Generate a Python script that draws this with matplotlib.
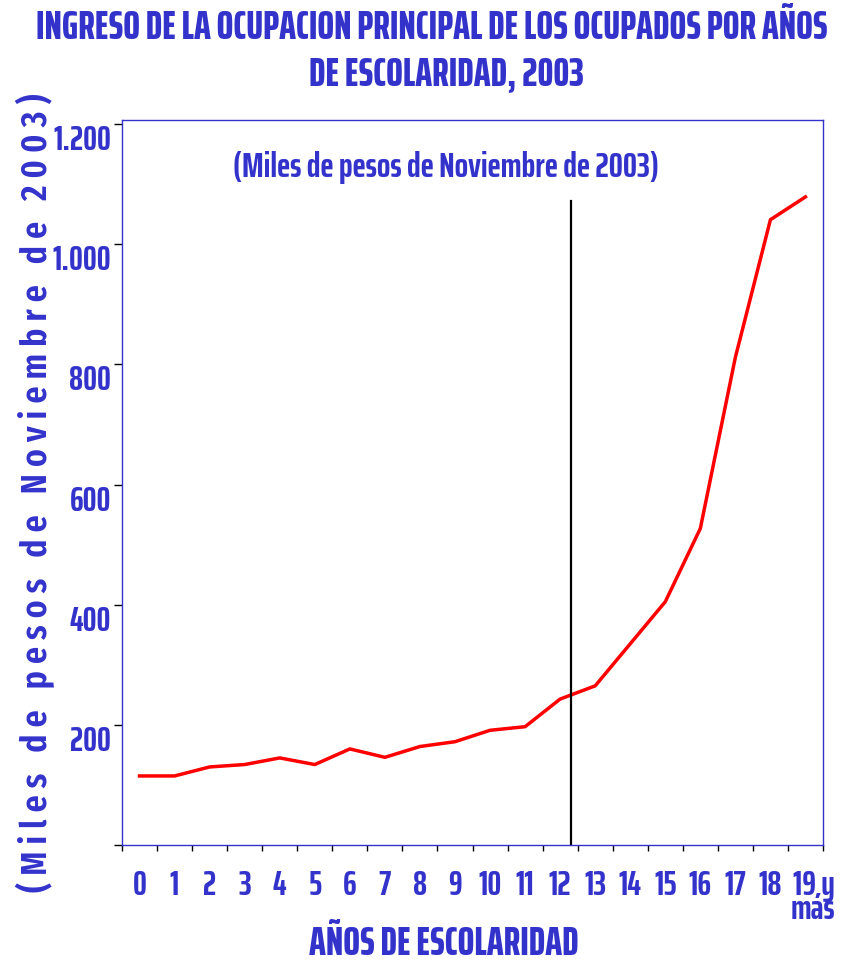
import matplotlib
matplotlib.use("Agg")
import matplotlib.pyplot as plt
from matplotlib.transforms import ScaledTranslation

# datos (miles de pesos de noviembre 2003)
anios = ["0", "1", "2", "3", "4", "5", "6", "7", "8", "9", "10",
         "11", "12", "13", "14", "15", "16", "17", "18", "19 y\nmás"]
ingreso = [115, 115, 130, 134, 145, 134, 160, 146, 164, 172, 191,
           197, 243, 265, 335, 405, 527, 812, 1041, 1079]
yticks = [200, 400, 600, 800, 1000, 1200]
ylabels = ["200", "400", "600", "800", "1.000", "1.200"]
corte_x = 12.31
corte_top = 1072

plt.rcParams['font.family'] = ['Saira ExtraCondensed', 'Fira Sans Extra Condensed', 'DejaVu Sans']

azul = '#3333cc'

fig = plt.figure(figsize=(8.41, 9.63), dpi=100)
ax = fig.add_axes([0.1451, 0.1225, 0.8335, 0.7529])
r = fig.canvas.get_renderer()


def ajustar(t, largo, vertical=False):
    # escala el tamaño de letra para que el texto mida "largo" pixeles
    bb = t.get_window_extent(r)
    medida = bb.height if vertical else bb.width
    t.set_fontsize(t.get_fontsize() * largo / medida)
    return t.get_fontsize()


x = list(range(len(anios)))
ax.plot(x, ingreso, color='#ff0000', lw=2.5)
ax.plot([corte_x, corte_x], [0, corte_top], color='black', lw=1.6)

ax.set_xlim(-0.5, 19.5)
ax.set_ylim(0, 1207)

for s in ax.spines.values():
    s.set_color(azul)
    s.set_linewidth(1.0)

# tamaño de las etiquetas de ticks a partir del ancho de "800"
prueba = fig.text(0, 0, "800", fontsize=20, fontweight='bold')
fs_tick = ajustar(prueba, 42)
prueba.remove()

# ticks en los bordes de cada categoria, etiquetas al centro
ax.set_xticks([i - 0.5 for i in range(21)])
ax.set_xticklabels([])
ax.set_xticks(x, minor=True)
ax.set_xticklabels(anios, minor=True, fontsize=fs_tick, fontweight='bold', color=azul,
                   va='top', linespacing=0.68)
ax.tick_params(axis='x', which='major', direction='out', length=4.5, color='black', width=1)
ax.tick_params(axis='x', which='minor', length=0, pad=17)
ult = ax.get_xticklabels(minor=True)[-1]
ult.set_ha('left')
ult.set_multialignment('right')
ult.set_transform(ult.get_transform() + ScaledTranslation(-15 / 100, 0, fig.dpi_scale_trans))

ax.set_yticks([0] + yticks)
ax.set_yticklabels([""] + ylabels, fontsize=fs_tick, fontweight='bold', color=azul, va='top')
ax.tick_params(axis='y', direction='out', length=6, color='black', width=1, pad=2)

t = fig.text(446 / 841, 1 - 167 / 963, "(Miles de pesos de Noviembre de 2003)",
             ha='center', va='center', fontsize=20, fontweight='bold', color=azul)
ajustar(t, 427)

t = fig.text(432 / 841, 1 - 28 / 963, "INGRESO DE LA OCUPACION PRINCIPAL DE LOS OCUPADOS POR AÑOS",
             ha='center', va='center', fontsize=20, fontweight='heavy', color=azul)
fs_tit = ajustar(t, 795)
fig.text(446 / 841, 1 - 74 / 963, "DE ESCOLARIDAD, 2003",
         ha='center', va='center', fontsize=fs_tit, fontweight='heavy', color=azul)

fig.text(444 / 841, 1 - 944 / 963, "AÑOS DE ESCOLARIDAD",
         ha='center', va='center', fontsize=fs_tit, fontweight='heavy', color=azul)

# titulo del eje y con letras espaciadas
palabras = ["(Miles", "de", "pesos", "de", "Noviembre", "de", "2003)"]
ylab = "   ".join(" ".join(p) for p in palabras)
t = fig.text(35 / 841, 1 - 493 / 963, ylab, rotation=90, ha='center', va='center',
             fontsize=20, fontweight='semibold', color=azul,
             family=['Fira Sans Extra Condensed', 'DejaVu Sans'])
ajustar(t, 803, vertical=True)

fig.savefig("out.png", dpi=100)
